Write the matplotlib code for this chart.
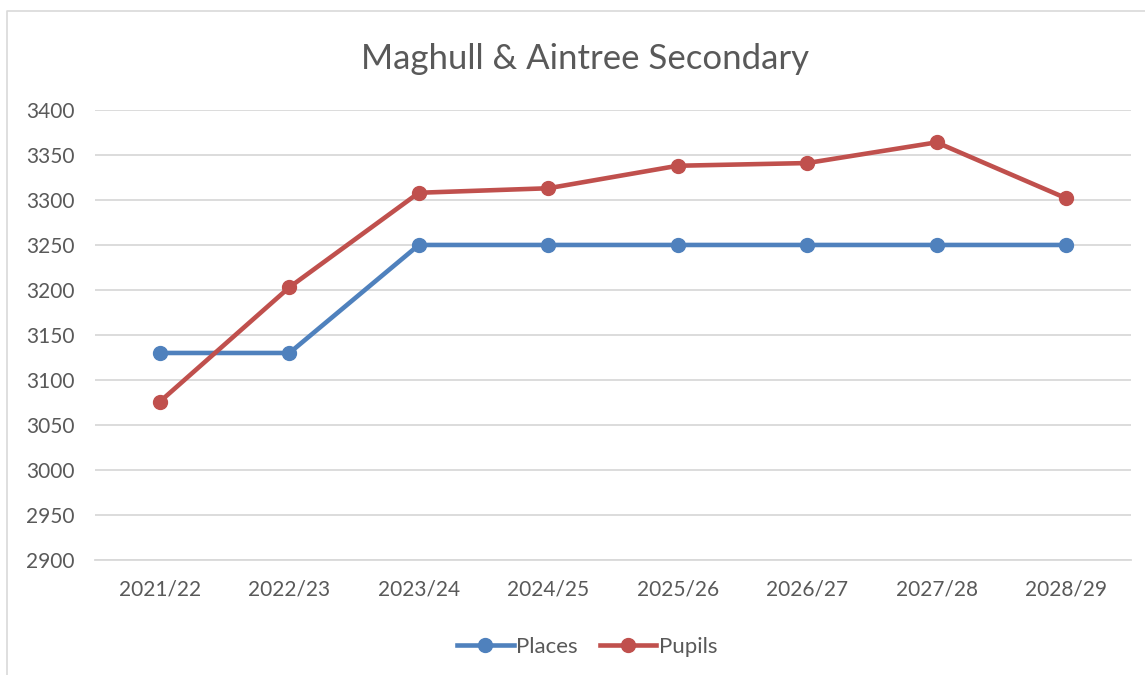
import matplotlib.pyplot as plt
from matplotlib.lines import Line2D

years = ["2021/22", "2022/23", "2023/24", "2024/25", "2025/26", "2026/27", "2027/28", "2028/29"]
places = [3130, 3130, 3250, 3250, 3250, 3250, 3250, 3250]
pupils = [3076, 3203, 3308, 3313, 3338, 3341, 3364, 3302]

plt.rcParams['font.family'] = ['Lato', 'DejaVu Sans']
grey = '#595959'

fig = plt.figure(figsize=(11.45, 6.75), dpi=100)
# chart frame: only the left and top edges show in the crop
fig.add_artist(Line2D([0.0065, 0.0065, 1.0], [0.0, 0.984, 0.984], transform=fig.transFigure,
                      color='#d9d9d9', lw=1.2))
ax = fig.add_axes([0.0832, 0.1704, 0.9043, 0.6667])

x = range(len(years))
ax.plot(x, places, '-o', color='#4f81bd', lw=3.3, ms=10, label='Places')
ax.plot(x, pupils, '-o', color='#c0504d', lw=3.3, ms=10, label='Pupils')

ax.set_xlim(-0.5, len(years) - 0.5)
ax.set_ylim(2900, 3400)
ax.set_yticks(range(2900, 3401, 50))
ax.set_xticks(list(x))
ax.set_xticklabels(years)
ax.grid(axis='y', color='#d9d9d9', lw=1.3)
ax.set_axisbelow(True)
for s in ['top', 'right', 'left']:
    ax.spines[s].set_visible(False)
ax.spines['bottom'].set_color('#d9d9d9')
ax.spines['bottom'].set_linewidth(1.3)
ax.tick_params(length=0, labelsize=15, colors=grey)
ax.tick_params(axis='x', pad=14)
ax.tick_params(axis='y', pad=50)
for t in ax.get_yticklabels():
    t.set_horizontalalignment('left')

fig.text(0.511, 0.912, 'Maghull & Aintree Secondary', ha='center', va='center',
         fontsize=25, color=grey)
fig.legend(loc='center', bbox_to_anchor=(0.5127, 0.042), ncol=2, frameon=False,
           fontsize=16, labelcolor=grey, handlelength=2.55, handletextpad=0.1,
           columnspacing=1.0)

plt.savefig('out.png', dpi=100)
